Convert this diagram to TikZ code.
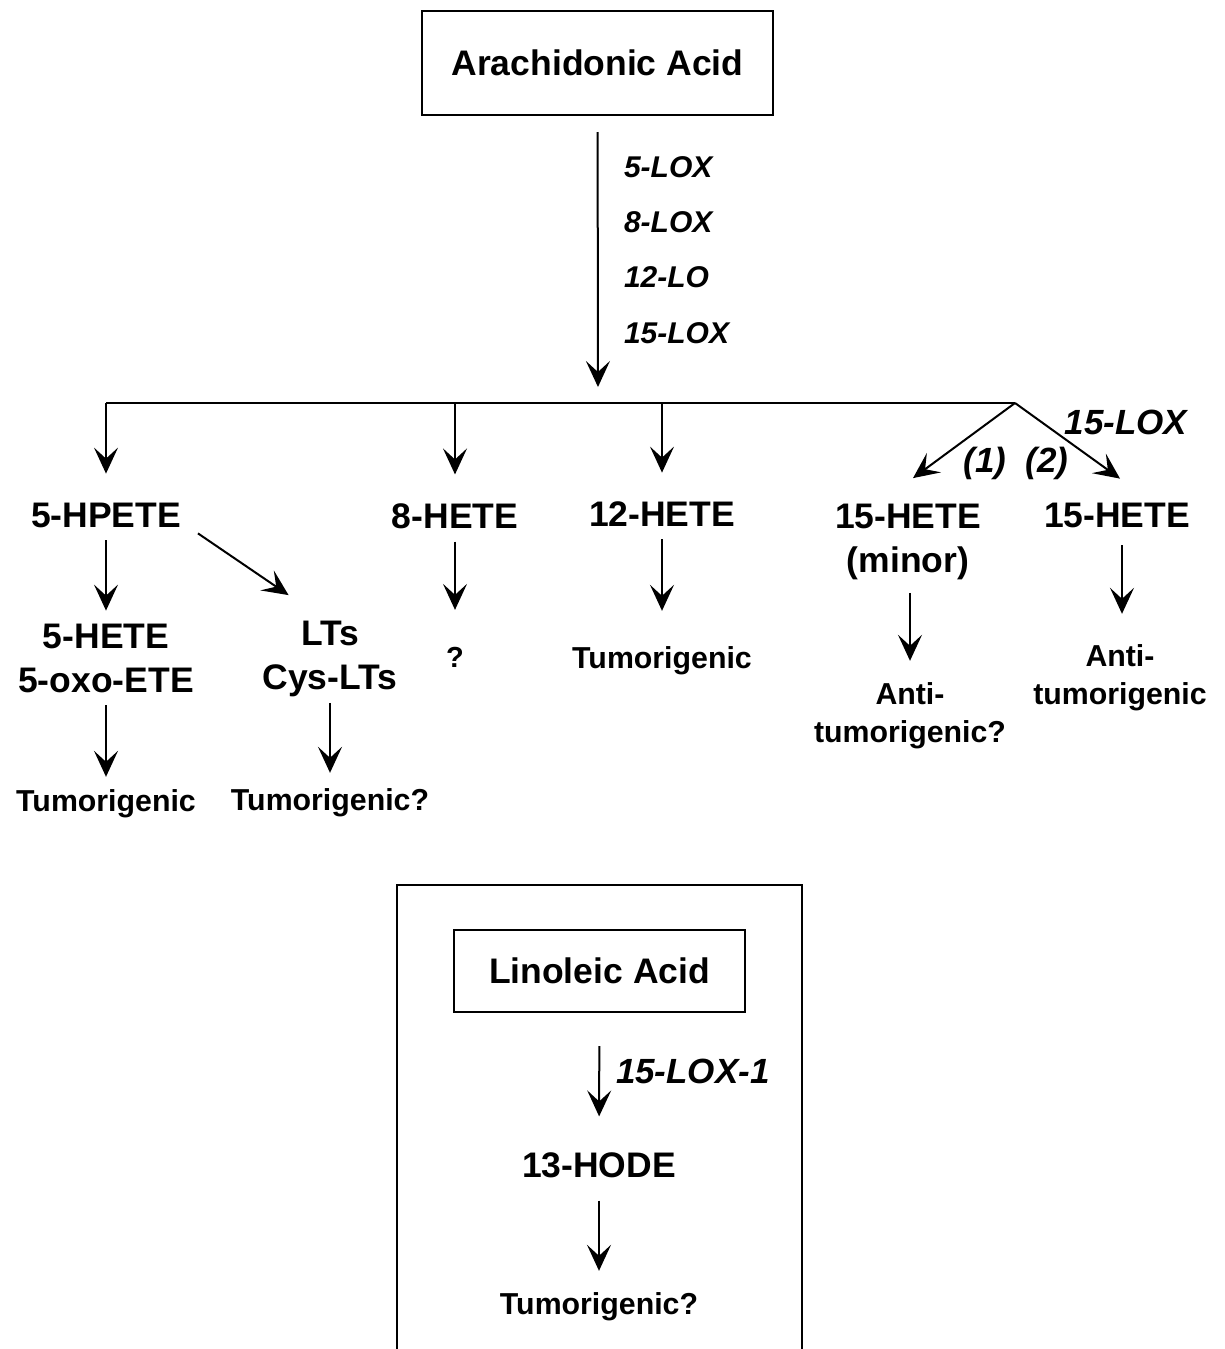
\documentclass[tikz,border=0pt]{standalone}
\usepackage{fontspec}
\setmainfont{Liberation Sans}
\usetikzlibrary{arrows.meta}

\begin{document}
\begin{tikzpicture}
[x=1pt,y=-1pt,line width=2pt,%
  every node/.style={inner sep=0pt,align=center,font=\bfseries\fontsize{35.5}{44}\selectfont},%
  effect/.style={font=\bfseries\fontsize{30.3}{38}\selectfont},%
  enz/.style={anchor=west,font=\bfseries\itshape\fontsize{30}{36}\selectfont},%
  bigenz/.style={font=\bfseries\itshape\fontsize{35}{40}\selectfont},%
  acidbox/.style={draw,line width=2pt},%
  flow/.style={->,shorten <=12pt,shorten >=12pt},%
  >={Stealth[length=26pt,width=24pt,inset=11pt]}]
\useasboundingbox (0,0) rectangle (1224,1349);

% arachidonic acid pathway
\node[acidbox,minimum width=351pt,minimum height=104pt] (arach) at (597.5,63) {Arachidonic Acid};
\node[enz] (lox5) at (623,167.5) {5-LOX};
\node[enz] (lox8) at (623,222) {8-LOX};
\node[enz] (lo12) at (623,277.5) {12-LO};
\node[enz] (lox15) at (623,333) {15-LOX};

\coordinate (split) at (598,403);
\coordinate (brL) at (106,403);
\coordinate (brR) at (1015,403);

\node (hpete) at (106,515) {5-HPETE};
\node (hete8) at (455,516) {8-HETE};
\node (hete12) at (662,514) {12-HETE};
\node (hete15m) at (908,542) {15-HETE\\(minor)};
\node (hete15r) at (1117,515) {15-HETE};
\node[bigenz] (lox15b) at (1126,422) {15-LOX};
\node[bigenz] (one) at (985,463) {(1)};
\node[bigenz] (two) at (1047,463) {(2)};

\node (hete5) at (106,658) {5-HETE\\5-oxo-ETE};
\node (lts) at (330,659) {LTs\\Cys-LTs};
\node[font=\bfseries\fontsize{29}{34}\selectfont] (q8) at (455,657) {?};
\node[effect] (tum12) at (662,661) {Tumorigenic};
\node[effect] (anti15m) at (910,716) {Anti-\\tumorigenic?};
\node[effect] (anti15r) at (1120,678) {Anti-\\tumorigenic};

\node[effect] (tum5) at (106,804) {Tumorigenic};
\node[effect] (tumlt) at (330,803) {Tumorigenic?};

\draw[flow,shorten <=16pt,shorten >=16pt] (arach) -- (split);
\draw (brL) -- (brR);
\draw[->,shorten >=28pt] (brL) -- (hpete);
\draw[->,shorten >=28pt] (hete8 |- brL) -- (hete8);
\draw[->,shorten >=28pt] (hete12 |- brL) -- (hete12);
\draw[->] (brR) -- ([xshift=5pt,yshift=25pt]hete15m.north);
\draw[->] (brR) -- ([xshift=3pt,yshift=23pt]hete15r.north);

\draw[flow] (hpete) -- (hete5);
\draw[->] ([xshift=16pt,yshift=-5pt]hpete.south east) -- ([xshift=27pt,yshift=25pt]lts.north west);
\draw[flow,shorten >=36pt] (hete8) -- (q8);
\draw[flow,shorten >=35pt] (hete12) -- (tum12);
\draw[flow,shorten >=21pt] ([xshift=2pt]hete15m.south) -- (anti15m);
\draw[flow,shorten <=17pt,shorten >=30pt] ([xshift=5pt]hete15r.south) -- ([xshift=2pt]anti15r.north);

\draw[flow] (hete5) -- (tum5);
\draw[flow,shorten <=5pt,shorten >=15pt] (lts) -- (tumlt);

% linoleic acid inset
\draw (397,1349) -- (397,885) -- (802,885) -- (802,1349);
\node[acidbox,minimum width=291pt,minimum height=82pt] (lino) at (599.5,971) {Linoleic Acid};
\node (hode) at (599,1165) {13-HODE};
\node[bigenz,anchor=west] (lox151) at (615,1071) {15-LOX-1};
\node[effect] (tumlin) at (599,1307) {Tumorigenic?};
\draw[flow,shorten <=33pt,shorten >=35pt] (lino) -- (hode);
\draw[flow,shorten <=22pt,shorten >=21pt] (hode) -- (tumlin);
\end{tikzpicture}
\end{document}
